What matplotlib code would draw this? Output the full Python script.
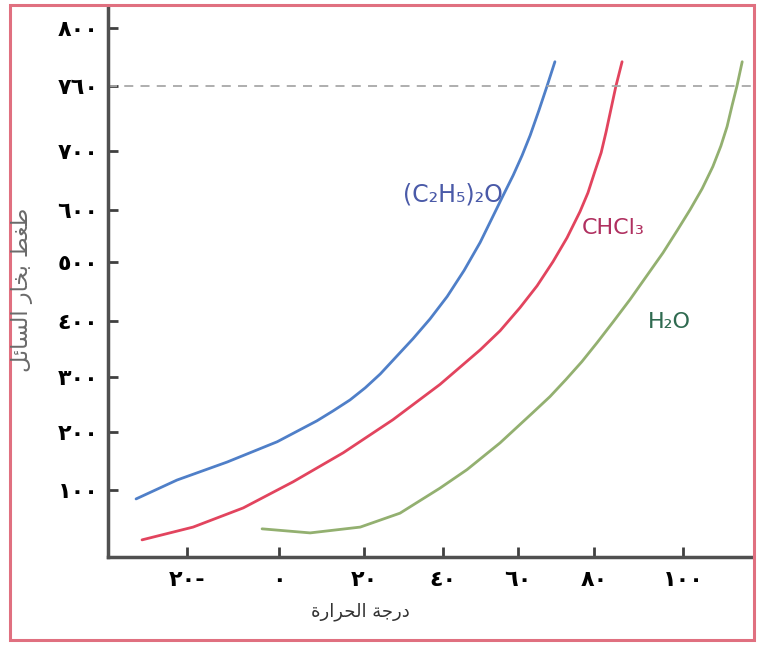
import numpy as np
import matplotlib
matplotlib.use('Agg')
import matplotlib.pyplot as plt
from matplotlib.patches import Rectangle

# data: temperature (C) vs vapour pressure (mmHg)
ether_t = [-31.1, -22.2, -11.3, -0.4, 8.9, 12.7, 16.7, 20.3, 24.1, 32.4, 36.7, 41.1, 45.6, 49.9,
           53.3, 56.0, 58.7, 61.05, 63.2, 65.5, 67.6, 69.7]
ether_p = [84.5, 117, 148, 183, 220, 238, 258, 280, 305, 368, 403, 441, 485, 537,
           587, 624, 659, 693, 715, 738, 760, 777]

chcl3_t = [-29.8, -18.7, -7.8, 3.3, 15.1, 27.3, 39.2, 49.9, 55.2, 60.5, 65.0, 69.2,
           72.9, 76.3, 78.4, 80.2, 81.6, 82.7, 83.8, 84.9, 86.3]
chcl3_p = [14, 36, 69, 114, 164, 222, 286, 348, 382, 422, 459, 500,
           546, 596, 629, 666, 698, 718, 739, 760, 777]

water_t = [-3.7, 7.3, 19.1, 29.1, 39.2, 46.4, 55.2, 63.9, 68.4, 72.6, 76.8, 80.7, 84.3, 88.1, 95.5,
           98.7, 101.6, 104.3, 106.7, 108.5, 109.9, 111.0, 112.1, 113.3]
water_p = [33, 26, 36, 60, 103, 135, 181, 235, 264, 295, 327, 361, 398, 436, 517,
           560, 600, 636, 674, 705, 723, 742, 760, 777]

x_ticks = [-20, 0, 20, 40, 60, 80, 100]
x_labels = ['٢٠-', '٠', '٢٠', '٤٠', '٦٠', '٨٠', '١٠٠']
y_ticks = [100, 200, 300, 400, 500, 600, 700, 760, 800]
y_labels = ['١٠٠', '٢٠٠', '٣٠٠', '٤٠٠', '٥٠٠', '٦٠٠', '٧٠٠', '٧٦٠', '٨٠٠']

# the original axes are hand drawn, ticks are not evenly spaced
x_tick_px = [187, 279, 364, 443, 518, 594, 683]
y_tick_px = [-490, -432, -377, -321, -262, -210, -152, -87, -29]


def piecewise(vals, pos):
    vals = np.asarray(vals, float)
    pos = np.asarray(pos, float)
    lo = (pos[1] - pos[0]) / (vals[1] - vals[0])
    hi = (pos[-1] - pos[-2]) / (vals[-1] - vals[-2])

    def fwd(v):
        v = np.asarray(v, float)
        out = np.interp(v, vals, pos)
        out = np.where(v < vals[0], pos[0] + (v - vals[0]) * lo, out)
        return np.where(v > vals[-1], pos[-1] + (v - vals[-1]) * hi, out)

    def inv(p):
        p = np.asarray(p, float)
        out = np.interp(p, pos, vals)
        out = np.where(p < pos[0], vals[0] + (p - pos[0]) / lo, out)
        return np.where(p > pos[-1], vals[-1] + (p - pos[-1]) / hi, out)

    return fwd, inv


# Arabic text, shaped by hand (presentation forms, visual order)
ylabel = '\ufede\ufe8b\ufe8e\ufeb4\ufedf\ufe8d \ufead\ufe8e\ufea8\ufe91 \ufec2\ufed0\ufec3'  # ضغط بخار السائل
xlabel = '\ufe93\ufead\ufe8d\ufeae\ufea4\ufedf\ufe8d \ufe94\ufe9f\ufead\ufea9'  # درجة الحرارة

W, H = 759, 647
fig = plt.figure(figsize=(W / 100, H / 100), dpi=100)
fig.patch.set_facecolor('white')
ax = fig.add_axes([108 / W, 1 - 557 / H, (752 - 108) / W, (557 - 8) / H])

ax.set_xscale('function', functions=piecewise(x_ticks, x_tick_px))
ax.set_yscale('function', functions=piecewise(y_ticks, y_tick_px))

ax.plot(ether_t, ether_p, color='#4f7fc8', lw=2, solid_capstyle='round', solid_joinstyle='round')
ax.plot(chcl3_t, chcl3_p, color='#e2445e', lw=2, solid_capstyle='round', solid_joinstyle='round')
ax.plot(water_t, water_p, color='#93b070', lw=2, solid_capstyle='round', solid_joinstyle='round')
ax.axhline(760, color='#a8a8a8', lw=1.3, ls=(0, (5, 4)))

ax.text(42.5, 626, '(C₂H₅)₂O', color='#4a5aa8', fontsize=17,
        ha='center', va='center')
ax.text(84.3, 565, 'CHCl₃', color='#b03060', fontsize=16,
        ha='center', va='center')
ax.text(96.9, 398, 'H₂O', color='#2f6a50', fontsize=16,
        ha='center', va='center')

ax.set_xlim(-37.2, 115.5)
ax.set_ylim(-15.5, 814)
ax.set_xticks(x_ticks)
ax.set_xticklabels(x_labels)
ax.set_yticks(y_ticks)
ax.set_yticklabels(y_labels)
ax.minorticks_off()

for s in ['top', 'right']:
    ax.spines[s].set_visible(False)
for s in ['left', 'bottom']:
    ax.spines[s].set_linewidth(2.5)
    ax.spines[s].set_color('#505050')
ax.tick_params(direction='in', length=7, width=2, color='#404040')
ax.tick_params(axis='y', pad=7)
ax.tick_params(axis='x', pad=9)
for lab in ax.get_xticklabels() + ax.get_yticklabels():
    lab.set_fontsize(16)
    lab.set_fontweight('bold')
    lab.set_family('DejaVu Sans')

fig.text(22 / W, 1 - 290 / H, ylabel, rotation=90, ha='center', va='center',
         fontsize=16, color='#6a6a6a')
fig.text(360 / W, 1 - 612 / H, xlabel, ha='center', va='center',
         fontsize=13, color='#333333')

fig.patches.append(Rectangle((10 / W, 1 - 640 / H), (754 - 10) / W, (640 - 5) / H,
                             transform=fig.transFigure, fill=False,
                             edgecolor='#e07080', lw=2.2))

fig.savefig('out.png', dpi=100)
